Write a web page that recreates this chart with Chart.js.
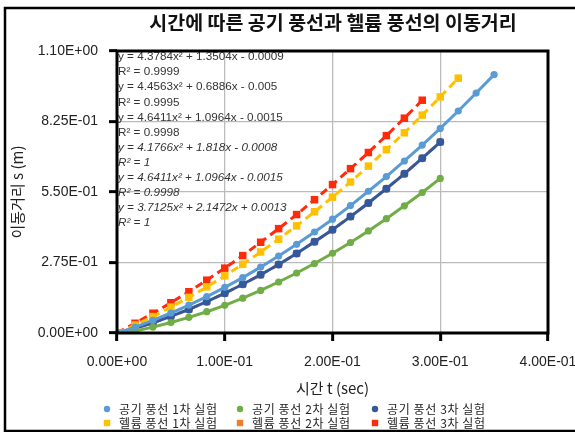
<!DOCTYPE html>
<html>
<head>
<meta charset="utf-8">
<script src="https://cdn.jsdelivr.net/npm/chart.js@4"></script>
<style>
  html, body { margin: 0; padding: 0; background: #fff; }
  #wrap { width: 575px; height: 432px; }
</style>
</head>
<body>
<div id="wrap"><canvas id="motionChart" width="575" height="432"></canvas></div>
<script>
// time (sec), one frame = 1/60 s
var times = [0, 0.0167, 0.0333, 0.05, 0.0667, 0.0833, 0.1, 0.1167, 0.1333, 0.15, 0.1667,
    0.1833, 0.2, 0.2167, 0.2333, 0.25, 0.2667, 0.2833, 0.3, 0.3167, 0.3333, 0.35];

// distance s (m)
var air1 = [0, 0.023, 0.049, 0.078, 0.109, 0.142, 0.178, 0.216, 0.257, 0.300, 0.346,
    0.394, 0.444, 0.497, 0.553, 0.610, 0.671, 0.733, 0.798, 0.866, 0.936, 1.008];
var air2 = [0, 0.008, 0.023, 0.041, 0.061, 0.083, 0.108, 0.136, 0.166, 0.199, 0.234,
    0.271, 0.311, 0.353, 0.398, 0.446, 0.496, 0.548, 0.603];
var air3 = [0, 0.018, 0.040, 0.065, 0.092, 0.122, 0.155, 0.190, 0.227, 0.267, 0.310,
    0.356, 0.403, 0.454, 0.507, 0.563, 0.621, 0.682, 0.745];
var helium1 = [0, 0.031, 0.064, 0.101, 0.139, 0.180, 0.223, 0.268, 0.316, 0.366, 0.418,
    0.473, 0.530, 0.589, 0.651, 0.715, 0.781, 0.850, 0.921, 0.994];
var helium2 = [0, 0.018, 0.040, 0.065, 0.092, 0.122, 0.155, 0.190, 0.227, 0.267, 0.310,
    0.356, 0.403, 0.454, 0.507, 0.563, 0.621, 0.682, 0.745];
var helium3 = [0, 0.038, 0.077, 0.118, 0.161, 0.206, 0.253, 0.302, 0.354, 0.407, 0.462,
    0.520, 0.579, 0.641, 0.704, 0.770, 0.838, 0.908];

var seriesLabels = ['공기 풍선 1차 실험', '공기 풍선 2차 실험', '공기 풍선 3차 실험',
    '헬륨 풍선 1차 실험', '헬륨 풍선 2차 실험', '헬륨 풍선 3차 실험'];

var trendLabels = [
    'y = 4.3784x² + 1.3504x - 0.0009', 'R² = 0.9999',
    'y = 4.4563x² + 0.6886x - 0.005', 'R² = 0.9995',
    'y = 4.6411x² + 1.0964x - 0.0015', 'R² = 0.9998',
    'y = 4.1766x² + 1.818x - 0.0008', 'R² = 1',
    'y = 4.6411x² + 1.0964x - 0.0015', 'R² = 0.9998',
    'y = 3.7125x² + 2.1472x + 0.0013', 'R² = 1'
];

var titleText = '시간에 따른 공기 풍선과 헬륨 풍선의 이동거리';
var xTitle = '시간 t (sec)';
var yTitle = '이동거리 s (m)';

var KR = '"Noto Sans CJK KR", "Noto Sans", sans-serif';
var LAT = '"Liberation Sans", "DejaVu Sans", sans-serif';

function toPoints(values) {
    var pts = [];
    for (var i = 0; i < values.length; i++) {
        pts.push({ x: times[i], y: values[i] });
    }
    return pts;
}

function sci(v) {
    if (Math.abs(v) < 1e-12) return '0.00E+00';
    var e = Math.floor(Math.log10(Math.abs(v)));
    var m = v / Math.pow(10, e);
    if (Math.abs(m) >= 9.995) { m /= 10; e++; }
    return m.toFixed(2) + 'E' + (e < 0 ? '-' : '+') + String(Math.abs(e)).padStart(2, '0');
}

function makeSet(label, values, color, style, radius, dashed, order) {
    return {
        label: label,
        data: toPoints(values),
        showLine: true,
        borderColor: color,
        backgroundColor: color,
        borderWidth: 3,
        borderDash: dashed ? [8, 5] : [],
        pointStyle: style,
        pointRadius: radius,
        pointBorderWidth: 0,
        pointBackgroundColor: color,
        order: order
    };
}

var decor = {
    id: 'decor',
    beforeDraw: function (chart) {
        var ctx = chart.ctx;
        ctx.save();
        ctx.fillStyle = '#ffffff';
        ctx.fillRect(0, 0, chart.width, chart.height);
        ctx.restore();
    },
    afterDraw: function (chart) {
        var ctx = chart.ctx;
        var a = chart.chartArea;
        ctx.save();

        // trendline equations
        ctx.fillStyle = '#333333';
        ctx.textBaseline = 'middle';
        ctx.textAlign = 'left';
        for (var i = 0; i < trendLabels.length; i++) {
            ctx.font = (i >= 6 ? 'italic ' : '') + '11.7px ' + LAT;
            ctx.fillText(trendLabels[i], a.left + 1, 57 + i * 15.1);
        }

        // plot frame
        ctx.strokeStyle = '#000000';
        ctx.lineWidth = 3;
        ctx.strokeRect(a.left, a.top, a.right - a.left, a.bottom - a.top);

        // outer chart border
        ctx.lineWidth = 2.5;
        ctx.strokeRect(5, 8, 600, 423);

        // title
        ctx.fillStyle = '#111111';
        ctx.textAlign = 'center';
        ctx.font = 'bold 19.5px ' + KR;
        ctx.fillText(titleText, 333, 23);

        // legend, 3 columns x 2 rows
        var colX = [107, 240, 375];
        var rowY = [409, 423];
        ctx.font = '12px ' + KR;
        ctx.letterSpacing = '0.6px';
        ctx.textAlign = 'left';
        chart.data.datasets.forEach(function (ds, k) {
            var x = colX[k % 3];
            var y = rowY[Math.floor(k / 3)];
            ctx.fillStyle = ds.backgroundColor;
            if (ds.pointStyle === 'circle') {
                ctx.beginPath();
                ctx.arc(x, y, 3.2, 0, Math.PI * 2);
                ctx.fill();
            } else {
                ctx.fillRect(x - 3.2, y - 3.2, 6.4, 6.4);
            }
            ctx.fillStyle = '#222222';
            ctx.fillText(ds.label, x + 12, y);
        });
        ctx.restore();
    }
};

var ctx = document.getElementById('motionChart');
var myChart = new Chart(ctx, {
    type: 'scatter',
    data: {
        datasets: [
            makeSet(seriesLabels[0], air1, '#5B9BD5', 'circle', 3.6, false, 0),
            makeSet(seriesLabels[1], air2, '#70AD47', 'circle', 3.6, false, 0),
            makeSet(seriesLabels[2], air3, '#34589C', 'circle', 4, false, 1),
            makeSet(seriesLabels[3], helium1, '#FFC000', 'rect', 5.3, true, 0),
            makeSet(seriesLabels[4], helium2, '#ED7D31', 'rect', 5, true, 6),
            makeSet(seriesLabels[5], helium3, '#FF2A0A', 'rect', 5.3, true, 0)
        ]
    },
    options: {
        responsive: false,
        animation: false,
        layout: { padding: { left: 0, right: 27, top: 51, bottom: 0 } },
        plugins: {
            legend: { display: false },
            title: { display: false },
            tooltip: { enabled: false }
        },
        scales: {
            x: {
                type: 'linear',
                min: 0,
                max: 0.4,
                afterFit: function (s) {
                    s.height = 99;
                    s.paddingLeft = 0;
                    s.paddingRight = 0;
                },
                ticks: {
                    stepSize: 0.1,
                    padding: 13,
                    maxRotation: 0,
                    color: '#222222',
                    font: { family: LAT, size: 14 },
                    callback: function (v) { return sci(v); }
                },
                grid: {
                    color: '#BBBBBB',
                    lineWidth: 1.3,
                    tickColor: '#000000',
                    tickWidth: 3,
                    tickLength: 8
                },
                border: { display: false },
                title: {
                    display: true,
                    text: xTitle,
                    color: '#222222',
                    font: { family: KR, size: 15 },
                    padding: { top: 0, bottom: 35 }
                }
            },
            y: {
                type: 'linear',
                min: 0,
                max: 1.1,
                afterFit: function (s) {
                    s.width = 117;
                    s.paddingTop = 0;
                    s.paddingBottom = 0;
                },
                ticks: {
                    stepSize: 0.275,
                    padding: 11,
                    color: '#222222',
                    font: { family: LAT, size: 14 },
                    callback: function (v) { return sci(v); }
                },
                grid: {
                    color: '#BBBBBB',
                    lineWidth: 1.3,
                    tickColor: '#000000',
                    tickWidth: 3,
                    tickLength: 8
                },
                border: { display: false },
                title: {
                    display: true,
                    text: yTitle,
                    color: '#222222',
                    font: { family: KR, size: 15 },
                    padding: { top: 8, bottom: 0 }
                }
            }
        }
    },
    plugins: [decor]
});
</script>
</body>
</html>
